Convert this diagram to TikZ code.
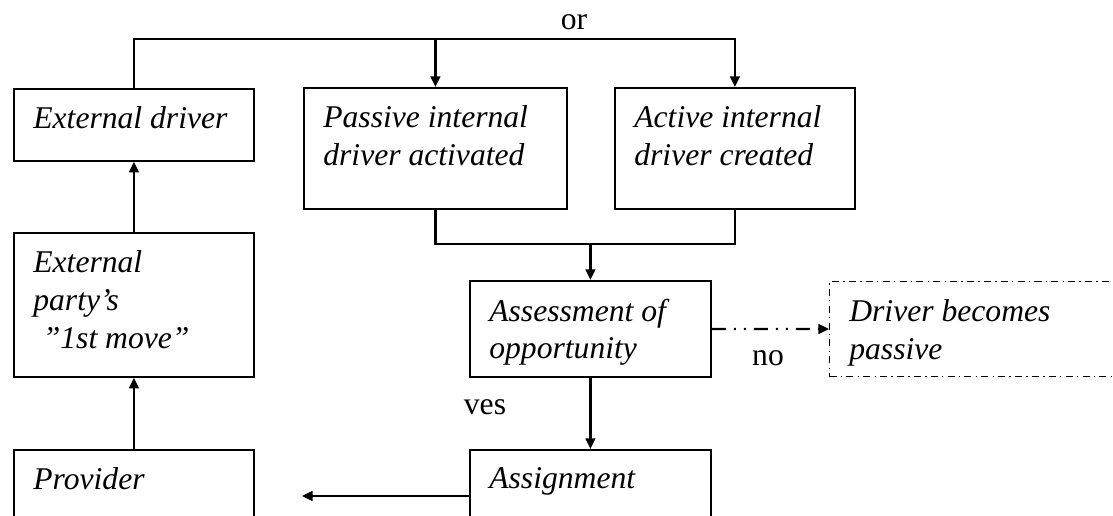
\documentclass[tikz,border=0pt]{standalone}
\usepackage{fontspec}
\setmainfont{Liberation Serif}
\usetikzlibrary{arrows.meta}
\tikzset{
  box/.style={draw, line width=1.1pt, anchor=north west, inner sep=0pt},
  dotbox/.style={box, line width=0.6pt, dash pattern=on 4pt off 2.4pt on 0.8pt off 2.4pt},
  txt/.style={anchor=north west, align=left, inner sep=0pt, xshift=0.4cm, yshift=-0.37cm,
    font=\fontsize{18pt}{21.5pt}\selectfont\itshape},
  lbl/.style={anchor=base, inner sep=0pt, font=\fontsize{18pt}{21.5pt}\selectfont},
  conn/.style={line width=1.3pt},
  dashdotdot/.style={dash pattern=on 8pt off 4.5pt on 1.2pt off 4.5pt on 1.2pt off 4.5pt}
}
\begin{document}
\begin{tikzpicture}[x=0.02cm,y=-0.02cm,>={Triangle[length=6pt,width=5.5pt]}]
\useasboundingbox (0,0) rectangle (1113,516);
\clip (0,0) rectangle (1113,516);

% boxes
\node[box, minimum width=4.8cm, minimum height=1.44cm] (extdrv) at (13,88) {};
\node[box, minimum width=5.26cm, minimum height=2.42cm] (passive) at (303,87) {};
\node[box, minimum width=4.8cm, minimum height=2.42cm] (active) at (614,87) {};
\node[box, minimum width=4.8cm, minimum height=2.88cm] (extparty) at (13,232) {};
\node[box, minimum width=4.8cm, minimum height=2.4cm] (provider) at (13,449) {};
\node[box, minimum width=4.82cm, minimum height=1.92cm] (assess) at (469,280) {};
\node[box, minimum width=4.82cm, minimum height=2.2cm] (assign) at (469,449) {};
\node[dotbox, minimum width=6.4cm, minimum height=1.9cm] (passdrv) at (829,281) {};

\node[txt] (extdrvT) at (extdrv.north west) {External driver};
\node[txt] (passiveT) at (passive.north west) {Passive internal\\driver activated};
\node[txt] (activeT) at (active.north west) {Active internal\\driver created};
\node[txt] (extpartyT) at (extparty.north west) {External\\party’s\\\hspace{0.3em}”1st move”};
\node[txt] (providerT) at (provider.north west) {Provider};
\node[txt] (assessT) at (assess.north west) {Assessment of\\opportunity};
\node[txt] (assignT) at (assign.north west) {Assignment};
\node[txt] (passdrvT) at (passdrv.north west) {Driver becomes\\passive};

\node[lbl] (orL) at (574,30) {or};
\node[lbl] (yesL) at (485,415) {ves};
\node[lbl] (noL) at (768,366) {no};

% connectors
\coordinate (topl) at (434,39);
\coordinate (mrg) at (589,244);
\coordinate (provtip) at (302,496);

\draw[conn,->] (extdrv.north) |- (topl) -| (active.north);
\draw[conn,->] (passive.north |- topl) -- (passive.north);
\draw[conn] (passive.south) |- (mrg) -| (active.south);
\draw[conn,->] (assess.north |- mrg) -- (assess.north);
\draw[conn,->] (assess) -- (assign);
\draw[conn,dashdotdot,->] (assess) -- (passdrv);
\draw[conn,->] (extparty) -- (extdrv);
\draw[conn,->] (provider) -- (extparty);
\draw[conn,->] (assign.west |- provtip) -- (provtip);
\end{tikzpicture}
\end{document}
